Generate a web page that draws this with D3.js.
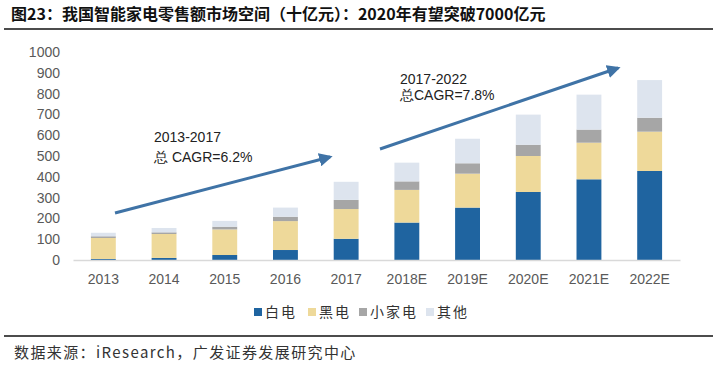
<!DOCTYPE html>
<html>
<head>
<meta charset="utf-8">
<script src="https://cdn.jsdelivr.net/npm/d3@7"></script>
<style>
  body { margin: 0; background: #fff; }
  svg { display: block; }
</style>
</head>
<body>
<div id="chart"></div>
<script>
const years = ['2013', '2014', '2015', '2016', '2017', '2018E', '2019E', '2020E', '2021E', '2022E'];
const baidian = [5, 10, 24, 48, 102, 180, 252, 327, 388, 428];
const heidian = [101, 115, 123, 139, 143, 157, 163, 173, 176, 189];
const xiaojiadian = [8, 8, 13, 21, 44, 41, 50, 54, 63, 67];
const qita = [17, 21, 28, 44, 87, 90, 118, 145, 168, 181];
const seriesNames = ['白电', '黑电', '小家电', '其他'];
const colors = ['#1f64a0', '#eed99a', '#a6a6a6', '#dde4ee'];
const yTicks = [0, 100, 200, 300, 400, 500, 600, 700, 800, 900, 1000];

const W = 717, H = 367;
const svg = d3.select('#chart').append('svg').attr('width', W).attr('height', H);

// title + rules
svg.append('text').attr('x', 11).attr('y', 20)
  .attr('font-family', '"Noto Sans CJK SC", sans-serif').attr('font-weight', 'bold')
  .attr('font-size', 16).attr('fill', '#111')
  .text('图23：我国智能家电零售额市场空间（十亿元）：2020年有望突破7000亿元');
svg.append('line').attr('x1', 4).attr('x2', 713).attr('y1', 29).attr('y2', 29)
  .attr('stroke', '#111').attr('stroke-width', 1.5);
svg.append('line').attr('x1', 4).attr('x2', 713).attr('y1', 336).attr('y2', 336)
  .attr('stroke', '#111').attr('stroke-width', 1.5);
svg.append('text').attr('x', 14).attr('y', 358)
  .attr('font-family', '"Noto Sans CJK SC", sans-serif')
  .attr('font-size', 15).attr('fill', '#333')
  .attr('letter-spacing', 1.4)
  .text('数据来源：iResearch，广发证券发展研究中心');

const x = d3.scaleBand().domain(years).range([73, 680]).paddingInner(0.59).paddingOuter(0.295);
const y = d3.scaleLinear().domain([0, 1000]).range([260, 52]);

// y axis labels
svg.append('g').selectAll('text').data(yTicks).join('text')
  .attr('x', 60).attr('y', d => y(d)).attr('dy', '0.35em')
  .attr('text-anchor', 'end')
  .attr('font-family', '"Liberation Sans", Arial, sans-serif')
  .attr('font-size', 14).attr('fill', '#595959')
  .text(d => d);

// stacked bars
const rows = years.map((yr, i) => ({
  year: yr, '白电': baidian[i], '黑电': heidian[i], '小家电': xiaojiadian[i], '其他': qita[i]
}));
const stacked = d3.stack().keys(seriesNames)(rows);
svg.append('g').selectAll('g').data(stacked).join('g')
  .attr('fill', (d, i) => colors[i])
  .selectAll('rect').data(d => d).join('rect')
  .attr('x', d => x(d.data.year))
  .attr('width', x.bandwidth())
  .attr('y', d => y(d[1]))
  .attr('height', d => y(d[0]) - y(d[1]));

// x axis
const xAxis = svg.append('g').attr('transform', 'translate(0,260)')
  .call(d3.axisBottom(x).tickSize(0).tickPadding(14));
xAxis.select('.domain').attr('stroke', '#d9d9d9').attr('stroke-width', 1.5);
xAxis.selectAll('text')
  .attr('font-family', '"Liberation Sans", Arial, sans-serif')
  .attr('font-size', 14).attr('fill', '#595959');

// growth arrows
svg.append('defs').append('marker')
  .attr('id', 'head').attr('viewBox', '0 0 10 10')
  .attr('refX', 8).attr('refY', 5)
  .attr('markerWidth', 4.5).attr('markerHeight', 4.5)
  .attr('orient', 'auto')
  .append('path').attr('d', 'M0,0 L10,5 L0,10 z').attr('fill', '#3f73a6');

const arrows = [
  { x1: 115, y1: 213, x2: 330, y2: 157 },
  { x1: 380, y1: 149, x2: 618, y2: 68 }
];
svg.append('g').selectAll('line').data(arrows).join('line')
  .attr('x1', d => d.x1).attr('y1', d => d.y1)
  .attr('x2', d => d.x2).attr('y2', d => d.y2)
  .attr('stroke', '#3f73a6').attr('stroke-width', 3)
  .attr('marker-end', 'url(#head)');

const notes = [
  { x: 154, y: 142, t: '2013-2017' },
  { x: 154, y: 162, t: '总 CAGR=6.2%' },
  { x: 400, y: 84, t: '2017-2022' },
  { x: 400, y: 100, t: '总CAGR=7.8%' }
];
svg.append('g').selectAll('text').data(notes).join('text')
  .attr('x', d => d.x).attr('y', d => d.y)
  .attr('font-family', '"Liberation Sans", Arial, sans-serif')
  .attr('font-size', 14).attr('fill', '#222')
  .text(d => d.t);

// legend
const legendX = [254, 308, 359, 426];
const lg = svg.append('g').selectAll('g').data(seriesNames).join('g')
  .attr('transform', (d, i) => `translate(${legendX[i]},312)`);
lg.append('rect').attr('x', 0).attr('y', -4).attr('width', 8).attr('height', 8)
  .attr('fill', (d, i) => colors[i]);
lg.append('text').attr('x', 11).attr('y', 0).attr('dy', '0.36em')
  .attr('font-family', '"Noto Sans CJK SC", sans-serif')
  .attr('font-size', 14).attr('fill', '#333')
  .attr('letter-spacing', 2)
  .text(d => d);
</script>
</body>
</html>
